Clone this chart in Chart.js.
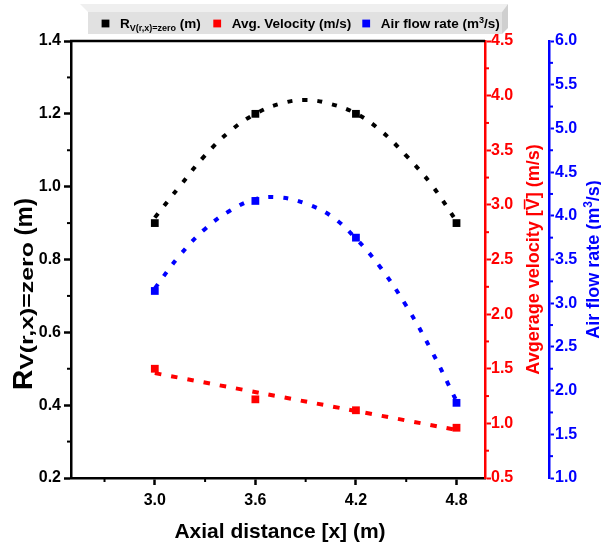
<!DOCTYPE html>
<html>
<head>
<meta charset="utf-8">
<script src="https://cdn.jsdelivr.net/npm/chart.js@4.4.1/dist/chart.umd.min.js"></script>
<style>
  html, body { margin: 0; padding: 0; background: #fff; }
  #wrap { width: 601px; height: 545px; position: relative; }
</style>
</head>
<body>
<div id="wrap"><canvas id="c"></canvas></div>
<script>
// measured points
const xPts = [3.0, 3.6, 4.2, 4.8];
const rZero = [0.90, 1.20, 1.20, 0.90];
const avgVel = [1.50, 1.22, 1.12, 0.96];
const airFlow = [3.14, 4.17, 3.75, 1.86];

// fitted curves
const fitX = [3.0, 3.15, 3.3, 3.45, 3.6, 3.75, 3.9, 4.05, 4.2, 4.35, 4.5, 4.65, 4.8];
const rZeroFit = [0.915, 1.002, 1.086, 1.153, 1.200, 1.228, 1.238, 1.227, 1.201, 1.153, 1.085, 1.006, 0.905];
const airFlowFit = [3.17, 3.55, 3.85, 4.06, 4.19, 4.21, 4.14, 4.00, 3.74, 3.40, 2.97, 2.46, 1.88];
const velFitX = [3.0, 4.8];
const avgVelFit = [1.46, 0.94];

// ticks
const xTicks = [3.0, 3.6, 4.2, 4.8];
const xMinor = [2.7, 3.3, 3.9, 4.5];
const yMinor = [0.3, 0.5, 0.7, 0.9, 1.1, 1.3];
const velMinor = [0.75, 1.25, 1.75, 2.25, 2.75, 3.25, 3.75, 4.25];
const flowMinor = [1.25, 1.75, 2.25, 2.75, 3.25, 3.75, 4.25, 4.75, 5.25, 5.75];

const FONT = '"Liberation Sans", Arial, sans-serif';
const RED = '#ff0000', BLUE = '#0000ff', BLACK = '#000000';

Chart.defaults.font.family = FONT;
Chart.defaults.font.weight = 'bold';

const pts = (xs, ys) => xs.map((x, i) => ({ x, y: ys[i] }));

// draws a run of text pieces (sub/superscripts) along one baseline
function rich(ctx, x, y, rot, parts, color) {
  ctx.save();
  ctx.translate(x, y);
  ctx.rotate(rot);
  ctx.fillStyle = color;
  ctx.strokeStyle = color;
  ctx.textAlign = 'left';
  ctx.textBaseline = 'alphabetic';
  let cx = 0;
  for (const p of parts) {
    ctx.font = `bold ${p.s}px ${FONT}`;
    const sx = p.sx || 1;
    const w = ctx.measureText(p.t).width * sx;
    ctx.save();
    ctx.translate(cx, p.dy || 0);
    ctx.scale(sx, 1);
    ctx.fillText(p.t, 0, 0);
    ctx.restore();
    if (p.over) {
      ctx.lineWidth = 1.6;
      ctx.beginPath();
      ctx.moveTo(cx + 1, -p.s * 0.8);
      ctx.lineTo(cx + w - 1, -p.s * 0.8);
      ctx.stroke();
    }
    cx += w;
  }
  ctx.restore();
  return cx;
}

function richWidth(ctx, parts) {
  ctx.save();
  let w = 0;
  for (const p of parts) {
    ctx.font = `bold ${p.s}px ${FONT}`;
    w += ctx.measureText(p.t).width * (p.sx || 1);
  }
  ctx.restore();
  return w;
}

const decor = {
  id: 'decor',
  afterDraw(chart) {
    const { ctx, chartArea: a, scales } = chart;
    ctx.save();

    // top frame line
    ctx.strokeStyle = BLACK;
    ctx.lineWidth = 2.5;
    ctx.beginPath();
    ctx.moveTo(a.left - 1, a.top);
    ctx.lineTo(a.right, a.top);
    ctx.stroke();

    // minor ticks
    ctx.lineWidth = 2;
    ctx.strokeStyle = BLACK;
    xMinor.forEach((v) => {
      const px = scales.x.getPixelForValue(v);
      ctx.beginPath(); ctx.moveTo(px, a.bottom); ctx.lineTo(px, a.bottom + 4); ctx.stroke();
    });
    yMinor.forEach((v) => {
      const py = scales.y.getPixelForValue(v);
      ctx.beginPath(); ctx.moveTo(a.left, py); ctx.lineTo(a.left - 4, py); ctx.stroke();
    });
    ctx.strokeStyle = RED;
    velMinor.forEach((v) => {
      const py = scales.y1.getPixelForValue(v);
      ctx.beginPath(); ctx.moveTo(scales.y1.left, py); ctx.lineTo(scales.y1.left + 4, py); ctx.stroke();
    });
    ctx.strokeStyle = BLUE;
    flowMinor.forEach((v) => {
      const py = scales.y2.getPixelForValue(v);
      ctx.beginPath(); ctx.moveTo(scales.y2.left, py); ctx.lineTo(scales.y2.left + 4, py); ctx.stroke();
    });

    // axis titles
    ctx.font = `bold 21px ${FONT}`;
    ctx.fillStyle = BLACK;
    ctx.textAlign = 'center';
    ctx.textBaseline = 'alphabetic';
    ctx.fillText('Axial distance [x] (m)', 280, 538);

    rich(ctx, 32, 390, -Math.PI / 2, [
      { t: 'R', s: 28 },
      { t: 'V(r,x)=zero', s: 18, dy: 1, sx: 1.38 },
      { t: ' (m)', s: 24 },
    ], BLACK);

    const velTitle = [
      { t: 'Avgerage velocity [', s: 18 },
      { t: 'V', s: 18, over: true },
      { t: '] (m/s)', s: 18 },
    ];
    const cy = (a.top + a.bottom) / 2;
    rich(ctx, 539, cy + richWidth(ctx, velTitle) / 2, -Math.PI / 2, velTitle, RED);

    const flowTitle = [
      { t: 'Air flow rate (m', s: 18 },
      { t: '3', s: 12, dy: -7 },
      { t: '/s)', s: 18 },
    ];
    rich(ctx, 599, cy + richWidth(ctx, flowTitle) / 2, -Math.PI / 2, flowTitle, BLUE);

    // legend box (3D look)
    ctx.fillStyle = '#efefef';
    ctx.beginPath();
    ctx.moveTo(80, 4); ctx.lineTo(508, 4); ctx.lineTo(502, 12); ctx.lineTo(88, 12); ctx.closePath();
    ctx.fill();
    ctx.fillStyle = '#cfcfcf';
    ctx.beginPath();
    ctx.moveTo(502, 12); ctx.lineTo(508, 4); ctx.lineTo(508, 28); ctx.lineTo(502, 34); ctx.closePath();
    ctx.fill();
    ctx.fillStyle = '#e1e1e1';
    ctx.fillRect(88, 12, 414, 22);

    const sq = (cx, cy2, c) => { ctx.fillStyle = c; ctx.fillRect(cx - 3.9, cy2 - 3.9, 7.8, 7.8); };
    sq(105.5, 23.5, BLACK);
    rich(ctx, 120, 28.3, 0, [
      { t: 'R', s: 13.5 },
      { t: 'V(r,x)=zero', s: 9, dy: 3 },
      { t: ' (m)', s: 13.5 },
    ], BLACK);
    sq(217.2, 23.5, RED);
    rich(ctx, 231.7, 28.3, 0, [{ t: 'Avg. Velocity (m/s)', s: 13.5 }], BLACK);
    sq(366.2, 23.5, BLUE);
    rich(ctx, 380.7, 28.3, 0, [
      { t: 'Air flow rate (m', s: 13.5 },
      { t: '3', s: 9, dy: -5 },
      { t: '/s)', s: 13.5 },
    ], BLACK);

    ctx.restore();
  },
};

const markerDs = (data, color, axis) => ({
  data, yAxisID: axis, showLine: false,
  pointStyle: 'rect', pointRadius: 5.5, pointHoverRadius: 5.5,
  pointBorderWidth: 0, backgroundColor: color, borderColor: color,
});
const fitDs = (data, color, axis, dash) => ({
  data, yAxisID: axis, showLine: true, pointRadius: 0,
  borderColor: color, borderWidth: 4, borderDash: dash, borderCapStyle: 'butt',
  tension: 0.4, fill: false,
});

const tickFont = { size: 16, weight: 'bold' };

new Chart(document.getElementById('c'), {
  type: 'scatter',
  data: {
    datasets: [
      markerDs(pts(xPts, rZero), BLACK, 'y'),
      markerDs(pts(xPts, avgVel), RED, 'y1'),
      markerDs(pts(xPts, airFlow), BLUE, 'y2'),
      fitDs(pts(fitX, rZeroFit), BLACK, 'y', [5, 10]),
      fitDs(pts(velFitX, avgVelFit), RED, 'y1', [6.5, 10]),
      fitDs(pts(fitX, airFlowFit), BLUE, 'y2', [5, 10]),
    ],
  },
  options: {
    responsive: true, maintainAspectRatio: false,
    animation: false,
    layout: { padding: { top: 41, left: 0, right: 0, bottom: 0 } },
    plugins: { legend: { display: false }, tooltip: { enabled: false } },
    scales: {
      x: {
        type: 'linear', position: 'bottom', min: 2.5, max: 4.97,
        afterBuildTicks: (s) => { s.ticks = xTicks.map((v) => ({ value: v })); },
        afterFit: (s) => { s.height = 67; },
        ticks: { color: BLACK, font: tickFont, padding: 6, callback: (v) => Number(v).toFixed(1) },
        grid: { drawOnChartArea: false, tickLength: 7, tickWidth: 2.5, tickColor: BLACK },
        border: { color: BLACK, width: 2.5 },
      },
      y: {
        position: 'left', min: 0.2, max: 1.4,
        afterFit: (s) => { s.width = 71; },
        ticks: { stepSize: 0.2, color: BLACK, font: tickFont, padding: 3, callback: (v) => Number(v).toFixed(1) },
        grid: { drawOnChartArea: false, tickLength: 7, tickWidth: 2.5, tickColor: BLACK },
        border: { color: BLACK, width: 2.5 },
      },
      y1: {
        position: 'right', min: 0.5, max: 4.5, weight: 0,
        afterFit: (s) => { s.width = 64; },
        ticks: { stepSize: 0.5, color: RED, font: tickFont, padding: 0, callback: (v) => Number(v).toFixed(1) },
        grid: { drawOnChartArea: false, tickLength: 6, tickWidth: 2, tickColor: RED },
        border: { color: RED, width: 2.5 },
      },
      y2: {
        position: 'right', min: 1, max: 6, weight: 1,
        afterFit: (s) => { s.width = 52; },
        ticks: { stepSize: 0.5, color: BLUE, font: tickFont, padding: 1, callback: (v) => Number(v).toFixed(1) },
        grid: { drawOnChartArea: false, tickLength: 5, tickWidth: 2, tickColor: BLUE },
        border: { color: BLUE, width: 2.5 },
      },
    },
  },
  plugins: [decor],
});
</script>
</body>
</html>
